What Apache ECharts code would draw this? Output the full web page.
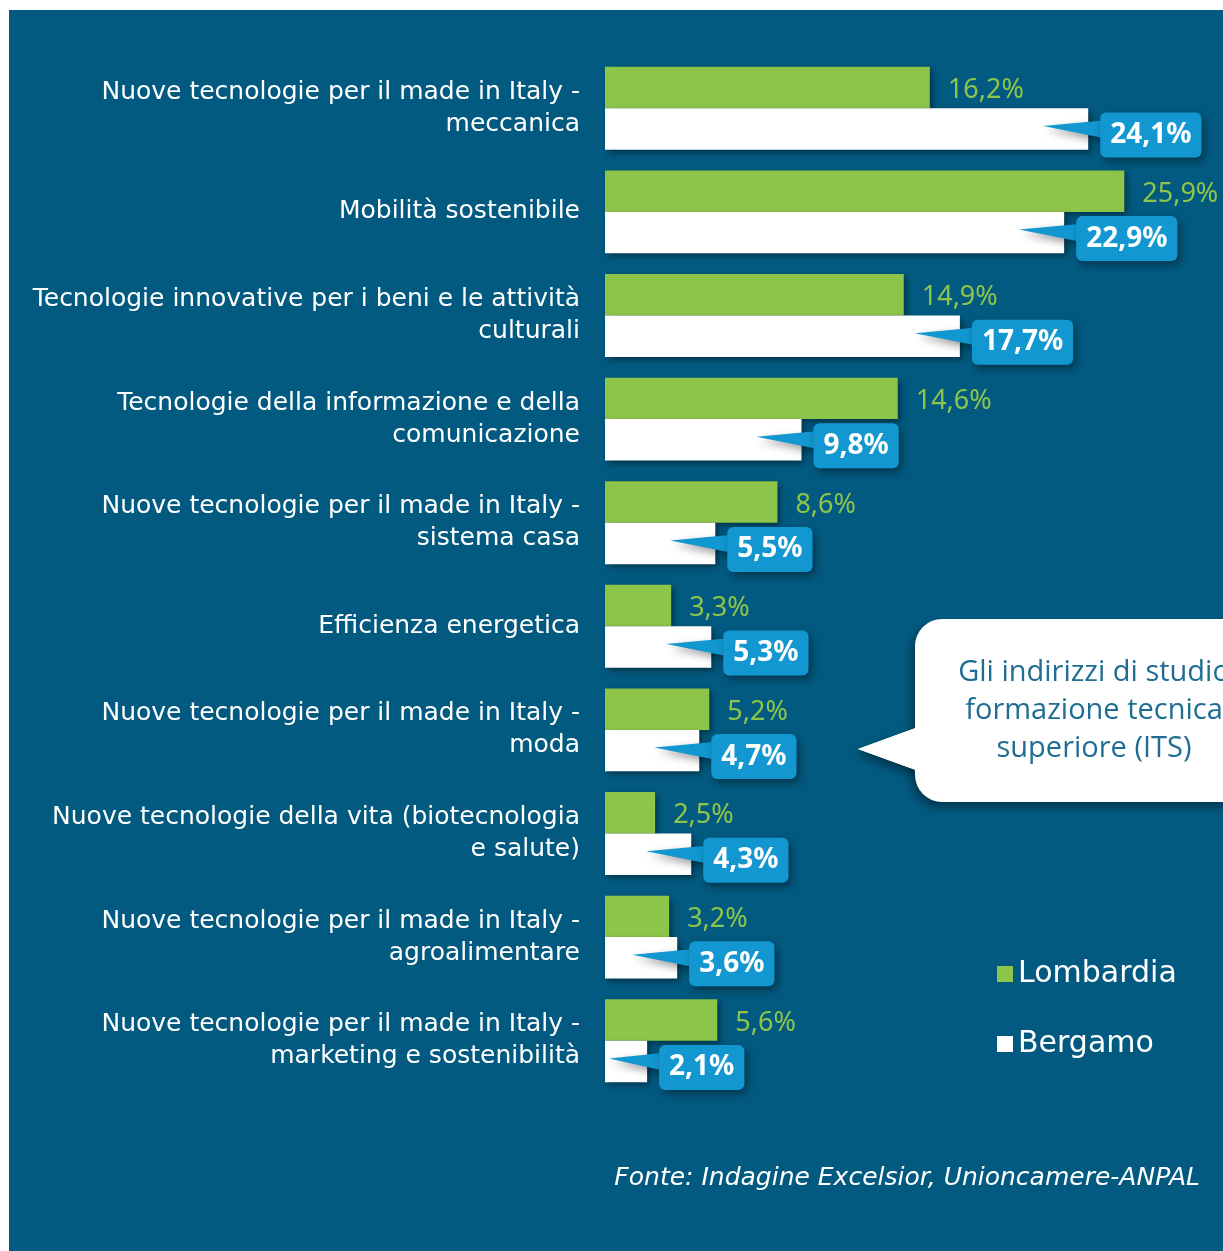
<!DOCTYPE html>
<html>
<head>
<meta charset="utf-8">
<script src="https://cdn.jsdelivr.net/npm/echarts@6/dist/echarts.min.js"></script>
<style>
  html, body { margin: 0; padding: 0; background: #fff; }
  #chart { position: absolute; left: 9px; top: 10px; width: 1214px; height: 1241px; }
</style>
</head>
<body>
<div id="chart"></div>
<script>
var categories = [
  'Nuove tecnologie per il made in Italy -\nmeccanica',
  'Mobilità sostenibile',
  'Tecnologie innovative per i beni e le attività\nculturali',
  'Tecnologie della informazione e della\ncomunicazione',
  'Nuove tecnologie per il made in Italy -\nsistema casa',
  'Efficienza energetica',
  'Nuove tecnologie per il made in Italy -\nmoda',
  'Nuove tecnologie della vita (biotecnologia\ne salute)',
  'Nuove tecnologie per il made in Italy -\nagroalimentare',
  'Nuove tecnologie per il made in Italy -\nmarketing e sostenibilità'
];
var lombardia = [16.2, 25.9, 14.9, 14.6, 8.6, 3.3, 5.2, 2.5, 3.2, 5.6];
var bergamo = [24.1, 22.9, 17.7, 9.8, 5.5, 5.3, 4.7, 4.3, 3.6, 2.1];
var seriesNames = ['Lombardia', 'Bergamo'];
var bubbleLines = ['Gli indirizzi di studio', 'formazione tecnica', 'superiore (ITS)'];
var sourceNote = 'Fonte: Indagine Excelsior, Unioncamere-ANPAL';

var BG = '#035a80';
var GREEN = '#8dc54a';
var BLUE = '#1297d0';
var FONT = '"DejaVu Sans", sans-serif';
var SHADOW = 'rgba(0,0,0,0.4)';

function fmt(v) {
  return v.toFixed(1).replace('.', ',') + '%';
}

// blue callout with pointer for the Bergamo bars
function renderCallout(params, api) {
  var v = api.value(0), c = api.value(1);
  var p = api.coord([v, c]);
  var start = api.coord([0, c])[0];
  var band = api.size([0, 1])[1];
  var cy = p[1] + band * 0.2;
  var x0 = p[0] + 12;
  var by = cy + 6;
  var tipX = Math.max(p[0] - 45, start + 4);
  return {
    type: 'group',
    children: [{
      type: 'polygon',
      shape: { points: [[tipX, cy - 3], [x0 + 8, by - 15], [x0 + 8, by + 4]] },
      style: { fill: BLUE, shadowBlur: 8, shadowColor: SHADOW, shadowOffsetX: 3, shadowOffsetY: 4 }
    }, {
      type: 'text',
      x: x0,
      y: by,
      style: {
        text: fmt(v),
        fill: '#fff',
        fontSize: 28,
        fontWeight: 'bold',
        fontFamily: '"Noto Sans", sans-serif',
        align: 'left',
        verticalAlign: 'middle',
        backgroundColor: BLUE,
        padding: [10, 10, 7, 10],
        borderRadius: 6,
        shadowBlur: 8,
        shadowColor: SHADOW,
        shadowOffsetX: 3,
        shadowOffsetY: 4
      }
    }]
  };
}

var chart = echarts.init(document.getElementById('chart'));

var opt = {
  backgroundColor: BG,
  animation: false,
  grid: { left: 596, right: 16.5, top: 46.5, bottom: 158.5 },
  legend: {
    data: seriesNames,
    orient: 'vertical',
    left: 983,
    top: 944,
    icon: 'rect',
    itemWidth: 16,
    itemHeight: 16,
    itemGap: 40,
    textStyle: { color: '#fff', fontSize: 30, fontFamily: FONT, lineHeight: 30 }
  },
  xAxis: { type: 'value', min: 0, max: 30, show: false },
  yAxis: {
    type: 'category',
    inverse: true,
    data: categories,
    axisLine: { show: false },
    axisTick: { show: false },
    splitLine: { show: false },
    axisLabel: { color: '#fff', fontSize: 25, lineHeight: 32, margin: 25, fontFamily: FONT }
  },
  series: [{
    name: seriesNames[0],
    type: 'bar',
    data: lombardia,
    barGap: '0%',
    barCategoryGap: '20%',
    itemStyle: { color: GREEN, shadowBlur: 6, shadowColor: SHADOW, shadowOffsetX: 3, shadowOffsetY: 3 },
    label: {
      show: true,
      position: 'right',
      distance: 18,
      offset: [0, 3],
      color: GREEN,
      fontSize: 27,
      fontFamily: '"Noto Sans", sans-serif',
      formatter: function (p) { return fmt(p.value); }
    }
  }, {
    name: seriesNames[1],
    type: 'bar',
    data: bergamo,
    barGap: '0%',
    barCategoryGap: '20%',
    itemStyle: { color: '#fff', shadowBlur: 6, shadowColor: SHADOW, shadowOffsetX: 3, shadowOffsetY: 3 }
  }, {
    type: 'custom',
    name: 'callout',
    clip: false,
    z: 5,
    encode: { x: 0, y: 1 },
    data: bergamo.map(function (v, i) { return [v, i]; }),
    renderItem: renderCallout
  }],
  graphic: [{
    type: 'group',
    children: [{
      type: 'polygon',
      shape: { points: [[849, 739], [912, 716], [912, 762]] },
      style: { fill: '#fff', shadowBlur: 10, shadowColor: SHADOW, shadowOffsetX: -3, shadowOffsetY: 5 }
    }, {
      type: 'rect',
      shape: { x: 906, y: 609, width: 340, height: 183, r: 27 },
      style: { fill: '#fff', shadowBlur: 10, shadowColor: SHADOW, shadowOffsetX: -3, shadowOffsetY: 5 }
    }, {
      type: 'polygon',
      shape: { points: [[849, 739], [912, 716], [912, 762]] },
      style: { fill: '#fff' }
    }, {
      type: 'text',
      x: 1085,
      y: 701,
      style: {
        text: bubbleLines.join('\n'),
        fill: '#1f6d92',
        fontSize: 29,
        lineHeight: 38,
        fontFamily: '"Open Sans", sans-serif',
        align: 'center',
        verticalAlign: 'middle'
      }
    }]
  }, {
    type: 'text',
    right: 23,
    top: 1156,
    style: {
      text: sourceNote,
      fill: '#fff',
      fontSize: 25,
      fontStyle: 'italic',
      fontFamily: FONT
    }
  }]
};

chart.setOption(opt);
</script>
</body>
</html>
